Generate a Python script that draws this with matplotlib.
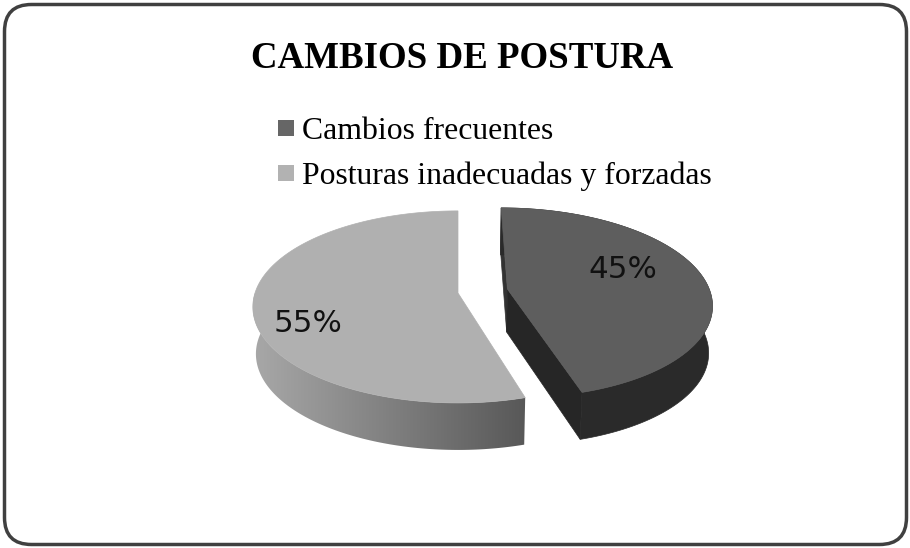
import numpy as np
import matplotlib
matplotlib.use("Agg")
import matplotlib.pyplot as plt
from matplotlib.patches import Polygon, FancyBboxPatch, Rectangle
from matplotlib.colors import LinearSegmentedColormap

title = "CAMBIOS DE POSTURA"
categories = ["Cambios frecuentes", "Posturas inadecuadas y forzadas"]
values = [45.4, 54.6]

# layout / projection (pixels of the 910x548 canvas)
CX, CY = 458.0, 293.0
RX, RY, K = 203.0, 94.0, 0.145
WALL_DEPTH, APEX_DEPTH, BOTTOM_SCALE = 47.0, 43.0, 0.985
EXPLODE = [(49.7 / 203.0, 0.042), (0.0, 0.0)]
TOP_COL = ["#5e5e5e", "#b0b0b0"]
LEG_COL = ["#666666", "#b2b2b2"]


def project(u, v):
    s = 1.0 / (1.0 + K * v)
    return CX + RX * u * s, CY - RY * v * s


def bottom(x, y, depth):
    return CX + BOTTOM_SCALE * (x - CX), y + depth


fig = plt.figure(figsize=(9.10, 5.48), dpi=100)
ax = fig.add_axes([0, 0, 1, 1])
ax.set_xlim(0, 910)
ax.set_ylim(548, 0)
ax.axis("off")

ax.add_patch(FancyBboxPatch((4.5, 4.5), 902, 540, boxstyle="round,pad=0,rounding_size=27",
                            fc="white", ec="#404040", lw=2.5, zorder=0))

fractions = np.array(values, float) / sum(values)
edges = 360 * np.concatenate([[0], np.cumsum(fractions)])

gray_wall = LinearSegmentedColormap.from_list("wall", ["#a8a8a8", "#585858"])

for i in range(len(values)):
    th = np.radians(np.linspace(edges[i], edges[i + 1], 240))
    ox, oy = EXPLODE[i]
    x, y = project(ox + np.sin(th), oy + np.cos(th))
    bx, by = bottom(x, y, WALL_DEPTH)
    ax0, ay0 = project(ox, oy)
    abx, aby = bottom(ax0, ay0, APEX_DEPTH)
    wall = np.column_stack([np.r_[x, bx[::-1]], np.r_[y, by[::-1]]])
    if i == 0:
        # back sliver, cut face and outer wall of the dark slice
        ax.add_patch(Polygon([(ax0, ay0), (x[0], y[0]), (bx[0], by[0] - 4), (abx, aby)],
                             fc="#333333", ec="#333333", lw=0.5, zorder=2))
        ax.add_patch(Polygon([(ax0, ay0), (x[-1], y[-1]), (bx[-1], by[-1]), (abx, aby)],
                             fc="#262626", ec="#262626", lw=0.5, zorder=2))
        ax.add_patch(Polygon(wall, fc="#2a2a2a", ec="#2a2a2a", lw=0.5, zorder=2))
    else:
        # outer wall of the light slice, shaded from left to right
        keep = wall[:, 1] > CY
        clip = Polygon(wall[keep], fc="none", ec="none", transform=ax.transData)
        ax.add_patch(clip)
        im = ax.imshow(np.linspace(0, 1, 256)[None, :], cmap=gray_wall, aspect="auto",
                       extent=(wall[:, 0].min(), wall[:, 0].max(), wall[:, 1].max(), wall[:, 1].min()),
                       zorder=2)
        im.set_clip_path(clip)
    ax.add_patch(Polygon(np.column_stack([np.r_[ax0, x], np.r_[ay0, y]]),
                         fc=TOP_COL[i], ec=TOP_COL[i], lw=0.5, zorder=3))

ax.set_xlim(0, 910)
ax.set_ylim(548, 0)

label_xy = [(623, 270), (308, 324)]
for v, (lx, ly) in zip(values, label_xy):
    ax.text(lx, ly, f"{v:.0f}%", fontsize=22.2, family="DejaVu Sans", color="#111111",
            ha="center", va="center", zorder=5)

ax.text(462, 59, title, fontsize=26.6, fontweight="bold", family="Liberation Serif",
        ha="center", va="center", color="black")

for cat, col, y0 in zip(categories, LEG_COL, [128, 173]):
    ax.add_patch(Rectangle((278, y0 - 8), 16, 16, fc=col, ec="none"))
    ax.text(301.5, y0, cat, fontsize=22.9, family="Liberation Serif", ha="left",
            va="center_baseline", color="black")

fig.savefig("out.png", dpi=100)
